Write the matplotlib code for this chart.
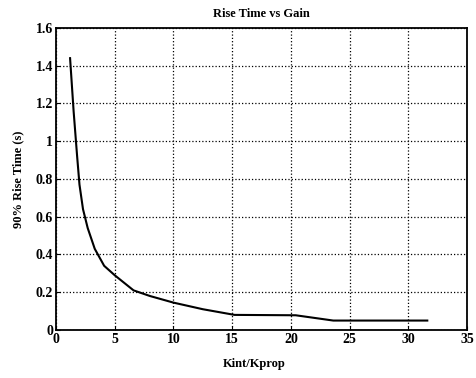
import matplotlib.pyplot as plt

# rise time vs integral/proportional gain ratio
kratio = [1.2, 1.5, 1.8, 2.0, 2.3, 2.7, 3.3, 4.1, 5.0, 6.6, 8.0, 10.0, 12.5, 15.2, 20.4, 23.6, 31.6]
rise = [1.44, 1.16, 0.92, 0.77, 0.64, 0.54, 0.43, 0.34, 0.29, 0.21, 0.18, 0.145, 0.11, 0.08, 0.078, 0.05, 0.05]

xticks = [0, 5, 10, 15, 20, 25, 30, 35]
yticks = [0, 0.2, 0.4, 0.6, 0.8, 1.0, 1.2, 1.4, 1.6]
yticklabels = ['0', '0.2', '0.4', '0.6', '0.8', '1', '1.2', '1.4', '1.6']

plt.rcParams['font.family'] = ['Liberation Serif', 'DejaVu Serif']
plt.rcParams['font.weight'] = 'bold'

fig = plt.figure(figsize=(4.76, 3.78), dpi=100)
ax = fig.add_axes([0.1176, 0.127, 0.864, 0.799])
ax.plot(kratio, rise, color='black', lw=1.5)

ax.set_xlim(0, 35)
ax.set_ylim(0, 1.6)
ax.set_xticks(xticks)
ax.set_yticks(yticks)
ax.set_yticklabels(yticklabels)
ax.grid(True, color='black', ls=':', lw=0.9)
ax.tick_params(direction='in', length=3, labelsize=10, pad=2)
for lab in ax.get_xticklabels() + ax.get_yticklabels():
    lab.set_fontweight('bold')
for sp in ax.spines.values():
    sp.set_linewidth(1.3)

ax.set_title('Rise Time vs Gain', fontsize=9, fontweight='bold', pad=8)
ax.set_ylabel('90% Rise Time (s)', fontsize=9, fontweight='bold', labelpad=8)
fig.text(0.535, 0.03, 'Kint/Kprop', fontsize=9, fontweight='bold', ha='center')

fig.savefig('out.png', dpi=100)
